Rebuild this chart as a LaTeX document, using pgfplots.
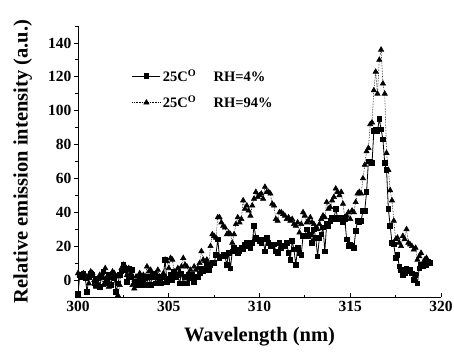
\documentclass[border=0pt]{standalone}
\usepackage{fontspec}
\setmainfont{Liberation Serif}
\usepackage{pgfplots}
\usepackage{pgfplotstable}
\pgfplotsset{compat=1.18}

\pgfplotstableread{
x y
300.0 -8
300.1 3
300.2 2
300.3 4
300.4 1
300.5 -7
300.6 2
300.7 4
300.8 3
300.9 -2
301.0 -3
301.1 1
301.2 -4
301.3 2
301.4 5
301.5 -2
301.6 0
301.7 3
301.8 -3
301.9 2
302.0 1
302.1 -7
302.2 -2
302.3 3
302.4 5
302.5 9
302.6 6
302.7 -1
302.8 7
302.9 2
303.0 6
303.1 -1
303.2 -3
303.3 -1
303.4 2
303.5 -3
303.6 -1
303.7 1
303.8 -3
303.9 2
304.0 -3
304.1 4
304.2 3
304.3 -2
304.4 2
304.5 0
304.6 -2
304.7 2
304.8 12
304.9 -1
305.0 1
305.1 3
305.2 0
305.3 5
305.4 2
305.5 3
305.6 -2
305.7 4
305.8 -2
305.9 2
306.0 -2
306.1 3
306.2 1
306.3 3
306.4 -1
306.5 2
306.6 2
306.7 4
306.8 7
306.9 5
307.0 7
307.1 9
307.2 6
307.3 9
307.4 10
307.5 10
307.6 15
307.7 24
307.8 13
307.9 14
308.0 15
308.1 14
308.2 9
308.3 16
308.4 7
308.5 17
308.6 19
308.7 18
308.8 16
308.9 17
309.0 19
309.1 18
309.2 21
309.3 22
309.4 20
309.5 19
309.6 22
309.7 32
309.8 25
309.9 24
310.0 23
310.1 22
310.2 24
310.3 17
310.4 25
310.5 22
310.6 20
310.7 20
310.8 21
310.9 17
311.0 16
311.1 22
311.2 19
311.3 20
311.4 20
311.5 22
311.6 16
311.7 12
311.8 23
311.9 18
312.0 9
312.1 19
312.2 16
312.3 15
312.4 26
312.5 26
312.6 30
312.7 26
312.8 27
312.9 22
313.0 30
313.1 25
313.2 14
313.3 25
313.4 27
313.5 31
313.6 17
313.7 33
313.8 32
313.9 35
314.0 37
314.1 36
314.2 42
314.3 37
314.4 36
314.5 37
314.6 34
314.7 36
314.8 24
314.9 20
315.0 21
315.1 20
315.2 19
315.3 29
315.4 35
315.5 34
315.6 35
315.7 41
315.8 41
315.9 52
316.0 70
316.1 70
316.2 69
316.3 88
316.4 89
316.5 88
316.6 95
316.7 89
316.8 83
316.9 69
317.0 65
317.1 42
317.2 32
317.3 22
317.4 21
317.5 13
317.6 15
317.7 8
317.8 6
317.9 3
318.0 4
318.1 7
318.2 5
318.3 6
318.4 4
318.5 0
318.6 3
318.7 -2
318.8 7
318.9 9
319.0 8
319.1 10
319.2 9
319.3 11
319.4 10
}\dataA

\pgfplotstableread{
x y
300.0 4
300.1 3
300.2 2
300.3 4
300.4 3
300.5 2
300.6 -2
300.7 5
300.8 4
300.9 0
301.0 -4
301.1 -2
301.2 3
301.3 1
301.4 -3
301.5 7
301.6 2
301.7 -4
301.8 3
301.9 5
302.0 4
302.1 2
302.2 -9
302.3 -3
302.4 7
302.5 9
302.6 8
302.7 3
302.8 7
302.9 4
303.0 -3
303.1 -5
303.2 2
303.3 0
303.4 4
303.5 -1
303.6 3
303.7 2
303.8 8
303.9 5
304.0 6
304.1 3
304.2 1
304.3 4
304.4 6
304.5 2
304.6 1
304.7 4
304.8 12
304.9 11
305.0 7
305.1 13
305.2 12
305.3 5
305.4 3
305.5 7
305.6 5
305.7 8
305.8 13
305.9 9
306.0 8
306.1 4
306.2 6
306.3 2
306.4 8
306.5 6
306.6 7
306.7 10
306.8 17
306.9 12
307.0 11
307.1 12
307.2 9
307.3 20
307.4 27
307.5 26
307.6 25
307.7 37
307.8 37
307.9 34
308.0 32
308.1 31
308.2 27
308.3 28
308.4 27
308.5 22
308.6 27
308.7 33
308.8 37
308.9 34
309.0 36
309.1 47
309.2 42
309.3 44
309.4 41
309.5 38
309.6 44
309.7 48
309.8 52
309.9 49
310.0 50
310.1 51
310.2 48
310.3 55
310.4 52
310.5 52
310.6 51
310.7 45
310.8 44
310.9 36
311.0 35
311.1 40
311.2 40
311.3 39
311.4 38
311.5 36
311.6 37
311.7 35
311.8 36
311.9 33
312.0 32
312.1 34
312.2 28
312.3 33
312.4 40
312.5 38
312.6 34
312.7 35
312.8 37
312.9 34
313.0 33
313.1 31
313.2 30
313.3 33
313.4 36
313.5 38
313.6 37
313.7 46
313.8 42
313.9 43
314.0 47
314.1 49
314.2 54
314.3 52
314.4 50
314.5 52
314.6 45
314.7 37
314.8 38
314.9 40
315.0 36
315.1 41
315.2 40
315.3 46
315.4 51
315.5 52
315.6 51
315.7 60
315.8 68
315.9 76
316.0 78
316.1 92
316.2 93
316.3 112
316.4 123
316.5 110
316.6 130
316.7 136
316.8 116
316.9 110
317.0 75
317.1 65
317.2 53
317.3 47
317.4 35
317.5 24
317.6 25
317.7 22
317.8 20
317.9 26
318.0 24
318.1 30
318.2 22
318.3 21
318.4 20
318.5 18
318.6 19
318.7 12
318.8 14
318.9 16
319.0 10
319.1 12
319.2 13
319.3 11
319.4 10
}\dataB

\begin{document}
\begin{tikzpicture}
\path[use as bounding box] (-78bp,-55bp) rectangle (376bp,297bp);
\begin{axis}[
  at={(0,0)}, anchor=south west,
  scale only axis,
  width=363bp, height=271bp,
  xmin=300, xmax=320, ymin=-10, ymax=150,
  axis lines*=left,
  axis line style={line width=0.9bp},
  xtick={300,305,...,320},
  minor xtick={302.5,307.5,312.5,317.5},
  ytick={0,20,...,140},
  minor ytick={-10,10,30,50,70,90,110,130,150},
  tick align=inside,
  major tick length=4bp,
  minor tick length=2.5bp,
  major y tick style={xshift=-4bp},
  minor y tick style={xshift=-2.5bp},
  every tick/.style={black, line width=0.8bp},
  /pgf/number format/assume math mode=true,
  ticklabel style={font=\fontsize{15.5bp}{18bp}\selectfont\bfseries},
  yticklabel style={xshift=-3bp},
  xticklabel style={yshift=-1bp},
  xlabel={Wavelength (nm)},
  ylabel={Relative emission intensity (a.u.)},
  label style={font=\fontsize{20.5bp}{24bp}\selectfont\bfseries},
  xlabel style={at={(axis description cs:0.5,-0.148)}, anchor=center},
  ylabel style={at={(axis description cs:-0.152,0.5)}, anchor=center, rotate=0},
  legend style={draw=none, fill=none, at={(axis description cs:0.14,0.855)}, anchor=north west,
    font=\fontsize{14.5bp}{17bp}\selectfont\bfseries, row sep=9bp},
  legend cell align=left,
  legend image code/.code={\draw[mark repeat=2,mark phase=2] plot coordinates {(0bp,0bp) (14bp,0bp) (28bp,0bp)};},
]
\addplot[black, solid, line width=0.8bp, mark=square*, mark size=2.3bp, mark options={solid}] table[x=x,y=y]{\dataA};
\addlegendentry{25C\textsuperscript{O}\hspace{1.2em}RH=4\%}
\addplot[black, densely dotted, line width=0.6bp, mark=triangle*, mark size=3bp, mark options={solid}] table[x=x,y=y]{\dataB};
\addlegendentry{25C\textsuperscript{O}\hspace{1.2em}RH=94\%}
\end{axis}
\end{tikzpicture}
\end{document}
